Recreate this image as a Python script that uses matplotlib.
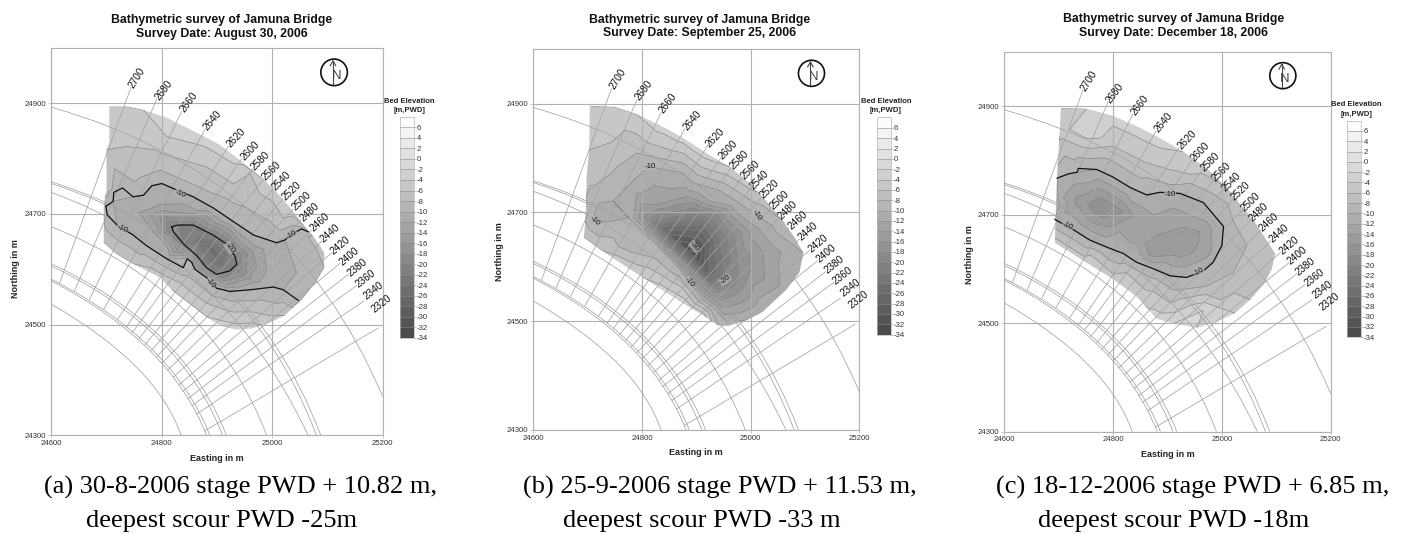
import matplotlib
matplotlib.use('Agg')
import matplotlib.pyplot as plt
from matplotlib.colors import LinearSegmentedColormap, BoundaryNorm
from matplotlib.patches import Circle, PathPatch, Polygon
from matplotlib.path import Path
from matplotlib.tri import Triangulation
import numpy as np

W, H = 1403, 534

# bed elevation classes
levels = list(range(-34, 9, 2))
legend_ticks = list(range(6, -35, -2))

# alignment chainages: label, outer end, inner end
chainage = [2700, 2680, 2660, 2640, 2620, 2600, 2580, 2560, 2540, 2520,
            2500, 2480, 2460, 2440, 2420, 2400, 2380, 2360, 2340, 2320]
outer_e = [24744, 24791, 24836, 24879, 24921, 24945, 24964, 24984, 25002, 25020,
           25038, 25053, 25071, 25090, 25108, 25123, 25138, 25153, 25165, 25192]
outer_n = [24928, 24908, 24885, 24854, 24823, 24800, 24782, 24763, 24746, 24728,
           24709, 24690, 24671, 24651, 24630, 24611, 24591, 24571, 24542, 24494]
inner_e = [24615, 24642, 24669, 24695, 24720, 24736, 24747, 24759, 24770, 24781,
           24791, 24800, 24811, 24821, 24831, 24838, 24847, 24855, 24863, 24878]
inner_n = [24575, 24561, 24546, 24528, 24509, 24496, 24486, 24475, 24464, 24453,
           24442, 24430, 24418, 24405, 24391, 24379, 24366, 24354, 24338, 24308]
label_e = [24744, 24791, 24836, 24879, 24921, 24945, 24964, 24984, 25002, 25020,
           25038, 25053, 25071, 25090, 25108, 25123, 25138, 25153, 25168, 25182]
label_n = [24928, 24908, 24885, 24854, 24823, 24800, 24782, 24763, 24746, 24728,
           24709, 24690, 24671, 24651, 24630, 24611, 24591, 24571, 24548, 24526]
label_rot = [58, 53, 53, 50, 46, 46, 45, 45, 45, 44,
             44, 43, 42, 41, 40, 40, 39, 38, 38, 38]

# guide bund / channel arcs: start, control, end
arc_start = [(24600, 24893), (24600, 24758), (24600, 24755), (24600, 24739), (24600, 24677),
             (24600, 24610), (24600, 24606), (24600, 24582), (24600, 24579), (24600, 24537)]
arc_ctrl = [(25030, 24772), (24955, 24648), (24950, 24644), (24910, 24628), (24891, 24561),
            (24841, 24497), (24836, 24493), (24820, 24471), (24816, 24467), (24790, 24429)]
arc_end = [(25200, 24370), (25088, 24300), (25080, 24300), (25065, 24300), (24990, 24300),
           (24917, 24300), (24910, 24300), (24887, 24300), (24881, 24300), (24835, 24300)]

# (a) 30 Aug 2006
a_outline_e = [24705, 24739, 24767, 24809, 24845, 24875, 24905, 24942, 24984, 25008, 25038, 25059, 25077,
               25094, 25094, 25080, 25053, 25023, 24999, 24963, 24936, 24908, 24881, 24845, 24818, 24797,
               24748, 24718, 24695, 24695, 24700, 24700, 24705]
a_outline_n = [24894, 24894, 24888, 24874, 24856, 24841, 24825, 24797, 24763, 24739, 24705, 24677, 24656,
               24630, 24603, 24579, 24545, 24517, 24505, 24493, 24491, 24497, 24514, 24542, 24563, 24585,
               24610, 24628, 24648, 24717, 24742, 24816, 24828]
a_outline_z = [-4, -4, -4, -4, -3, -3, -3, -3, -4, -5, -5, -6, -7,
               -8, -8, -8, -8, -6, -5, -3, -3, -3, -4, -4, -4, -5,
               -6, -6, -6, -9, -7, -6, -5]
a_m10_upper_e = [24699, 24712, 24713, 24729, 24748, 24767, 24782, 24800, 24821, 24857, 24893, 24930, 24966,
                 25008, 25023, 25038, 25053, 25065]
a_m10_upper_n = [24714, 24723, 24739, 24747, 24731, 24734, 24751, 24755, 24746, 24731, 24711, 24686, 24662,
                 24648, 24653, 24665, 24673, 24668]
a_m10_lower_e = [24699, 24701, 24719, 24748, 24772, 24809, 24839, 24846, 24854, 24860, 24881, 24899, 24923,
                 24960, 25002, 25020, 25047]
a_m10_lower_n = [24714, 24699, 24680, 24662, 24643, 24619, 24603, 24619, 24613, 24600, 24585, 24566, 24560,
                 24563, 24568, 24563, 24544]
a_m20_e = [24818, 24830, 24857, 24893, 24917, 24932, 24936, 24923, 24899, 24881, 24863, 24839, 24821, 24818]
a_m20_n = [24677, 24680, 24680, 24662, 24646, 24625, 24609, 24597, 24591, 24603, 24625, 24646, 24668, 24677]
a_depth_e = [24860, 24870, 24887, 24900, 24905, 24748, 24797, 24845, 24893, 24942, 24972, 24954, 24990, 25020,
             24966, 24917, 24893, 24797, 24809, 24779, 24809, 24851, 24748, 24797, 24869, 24930, 24990, 25038,
             25080, 25068, 24736, 24788, 24881, 24960, 24978, 25020, 24809, 24899, 24930, 24881, 24930, 24966,
             25002, 24833, 24767]
a_depth_n = [24670, 24650, 24640, 24625, 24610, 24704, 24717, 24705, 24686, 24656, 24631, 24613, 24600, 24594,
             24582, 24576, 24579, 24693, 24686, 24668, 24643, 24625, 24773, 24785, 24760, 24736, 24699, 24680,
             24637, 24594, 24822, 24816, 24785, 24773, 24736, 24693, 24840, 24810, 24791, 24539, 24533, 24533,
             24526, 24576, 24619]
a_depth_z = [-21, -23, -25, -25, -23, -11, -12, -13, -14, -13, -13, -16, -12, -11,
             -13, -15, -12, -16, -18, -11, -12, -14, -7, -7.5, -7, -7, -7.5, -8,
             -8, -9, -6, -6, -6, -6, -6, -6, -4, -4, -4, -6, -7, -7,
             -7, -6, -7]

# (b) 25 Sep 2006
b_outline_e = [24704, 24750, 24790, 24836, 24876, 24919, 24962, 24999, 25029, 25060, 25082, 25097, 25090,
               25066, 25023, 24993, 24959, 24940, 24913, 24882, 24845, 24802, 24753, 24726, 24693, 24697,
               24698, 24703]
b_outline_n = [24896, 24894, 24881, 24859, 24837, 24809, 24784, 24753, 24721, 24684, 24652, 24626, 24590,
               24558, 24518, 24502, 24491, 24492, 24511, 24530, 24552, 24580, 24612, 24630, 24654, 24699,
               24765, 24815]
b_outline_z = [-4, -4, -4, -3, -3, -3, -4, -5, -7, -8, -9, -10, -11,
               -11, -10, -10, -9, -8, -3, -3, -3, -4, -5, -6, -6, -9,
               -7, -6]
b_depth_e = [24810, 24827, 24851, 24876, 24897, 24913, 24925, 24937, 24775, 24802, 24833, 24864, 24888, 24913,
             24931, 24759, 24827, 24876, 24913, 24943, 24974, 24999, 24956, 25005, 25035, 25066, 24864, 24827,
             24790, 24882, 24925, 24968, 25011, 24815, 24876, 24943, 24747, 24713, 24790, 24790, 24851, 24913,
             24974, 24741, 24729, 24772]
b_depth_n = [24688, 24677, 24659, 24640, 24621, 24596, 24571, 24546, 24690, 24665, 24634, 24602, 24571, 24539,
             24521, 24665, 24590, 24552, 24677, 24652, 24621, 24590, 24577, 24665, 24627, 24590, 24702, 24715,
             24734, 24734, 24721, 24715, 24695, 24784, 24772, 24740, 24721, 24684, 24765, 24809, 24815, 24790,
             24759, 24797, 24702, 24640]
b_depth_z = [-17, -22, -28, -31, -33, -28, -22, -17, -10, -10, -10, -10, -10, -10,
             -9, -9, -6, -5, -24, -22, -18, -16, -20, -13, -13, -11, -18, -14,
             -12, -13, -12, -11, -10, -10, -10, -10, -10, -10, -10, -8, -6, -5,
             -6, -7, -11, -9]

# (c) 18 Dec 2006
c_outline_e = [24704, 24751, 24800, 24849, 24886, 24929, 24972, 25009, 25033, 25064, 25098, 25092, 25079,
               25052, 25024, 24990, 24954, 24911, 24880, 24843, 24800, 24745, 24693, 24695, 24697, 24702]
c_outline_n = [24896, 24895, 24882, 24860, 24841, 24816, 24785, 24750, 24719, 24681, 24628, 24600, 24574,
               24543, 24518, 24502, 24491, 24499, 24508, 24549, 24581, 24615, 24648, 24719, 24769, 24857]
c_outline_z = [-4, -4, -3, -3, -3, -4, -5, -6, -7, -7, -8, -8, -7,
               -6, -4, -3, -2, -2, -3, -5, -5, -5, -5, -9, -9, -5]
c_m10_e = [24697, 24718, 24734, 24736, 24770, 24800, 24831, 24862, 24886, 24923, 24966, 25003, 25000,
           24984, 24966, 24935, 24905, 24874, 24843, 24819, 24788, 24757, 24727, 24693]
c_m10_n = [24767, 24775, 24778, 24785, 24783, 24769, 24750, 24736, 24741, 24739, 24722, 24678, 24643,
           24612, 24596, 24584, 24587, 24600, 24612, 24628, 24640, 24653, 24672, 24691]
c_depth_e = [24779, 24813, 24837, 24739, 24708, 24880, 24911, 24941, 24874, 24923, 24960, 24972, 24849, 24911,
             24972, 24757, 24739, 24757, 24800, 24849, 24911, 24972, 25021, 25046, 25064, 25021, 24972, 24911,
             24874, 24825, 24757, 24966]
c_depth_n = [24713, 24706, 24697, 24725, 24731, 24681, 24662, 24659, 24631, 24631, 24668, 24631, 24656, 24712,
             24687, 24813, 24826, 24857, 24826, 24782, 24763, 24744, 24687, 24643, 24606, 24593, 24568, 24549,
             24574, 24593, 24618, 24523]
c_depth_z = [-18, -16.5, -14, -15, -12, -13, -14.5, -15, -15.5, -15, -14, -13, -13, -12,
             -12, -7, -6, -2, -6, -7, -7, -8, -8, -8, -8, -8, -8, -7,
             -7, -6, -5, -2]

titles = ['Survey Date: August 30, 2006', 'Survey Date: September 25, 2006', 'Survey Date: December 18, 2006']
captions = [('(a) 30-8-2006 stage PWD + 10.82 m,', 'deepest scour PWD -25m'),
            ('(b) 25-9-2006 stage PWD + 11.53 m,', 'deepest scour PWD -33 m'),
            ('(c) 18-12-2006 stage PWD + 6.85 m,', 'deepest scour PWD -18m')]
a_labels = [(24833, 24736, '-10', -25), (25035, 24663, '-10', 30), (24728, 24673, '-10', -25),
            (24923, 24639, '-20', -55), (24888, 24574, '-10', -50)]
b_labels = [(24815, 24784, '-10', 0), (24713, 24684, '-10', -45), (25011, 24695, '-10', -60),
            (24897, 24637, '-30', -50), (24888, 24571, '-10', -50), (24953, 24576, '-20', 35)]
c_labels = [(24905, 24737, '-10', 0), (24716, 24678, '-10', -25), (24957, 24595, '-10', 30)]

plt.rcParams['font.family'] = ['Liberation Sans', 'DejaVu Sans']

GRID = '#b0b0b0'
WIRE = '#a3a3a3'
cmap = LinearSegmentedColormap.from_list('bed', ['#4b4b4b', '#fcfcfc'], N=len(levels) - 1)
norm = BoundaryNorm(levels, cmap.N)

fig = plt.figure(figsize=(W / 100, H / 100), dpi=100, facecolor='white')


def px_axes(left, right, top, bottom):
    return fig.add_axes([left / W, 1 - bottom / H, (right - left) / W, (bottom - top) / H])


def fig_text(x, y, s, **kw):
    fig.text(x / W, 1 - y / H, s, ha=kw.pop('ha', 'center'), va='center', **kw)


def draw_panel(box, outline, depth, thick, notes):
    ax = px_axes(*box)
    ax.set_xlim(24600, 25200)
    ax.set_ylim(24300, 25000)

    # survey field, cut to the surveyed area
    e = list(outline[0]) + list(depth[0]) + [p for line in thick for p in line[0]]
    n = list(outline[1]) + list(depth[1]) + [p for line in thick for p in line[1]]
    z = list(outline[2]) + list(depth[2]) + [line[2] for line in thick for _ in line[0]]
    tri = Triangulation(np.array(e, dtype=float), np.array(n, dtype=float))
    area = Polygon(np.column_stack(outline[:2]), closed=True, transform=ax.transData, fc='none', ec='none')
    ax.add_patch(area)
    cf = ax.tricontourf(tri, z, levels=levels, cmap=cmap, norm=norm, zorder=1)
    cl = ax.tricontour(tri, z, levels=levels, colors='#7d7d7d', linewidths=0.45,
                       linestyles='solid', zorder=2)
    cf.set_clip_path(area)
    cl.set_clip_path(area)

    for s, c, t in zip(arc_start, arc_ctrl, arc_end):
        arc = Path([s, c, t], [Path.MOVETO, Path.CURVE3, Path.CURVE3])
        ax.add_patch(PathPatch(arc, fc='none', ec=WIRE, lw=0.55, zorder=3))
    for i in range(len(chainage)):
        ax.plot([inner_e[i], outer_e[i]], [inner_n[i], outer_n[i]], color=WIRE, lw=0.55, zorder=3)
        ax.text(label_e[i], label_n[i], str(chainage[i]), fontsize=7.2, color='#111111',
                rotation=label_rot[i], rotation_mode='anchor', ha='left', va='center', zorder=6)

    for line in thick:
        ax.plot(line[0], line[1], color='#111111', lw=0.9, zorder=4)
    for x, y, s, r in notes:
        ax.text(x, y, s, fontsize=5.6, color='#111111', rotation=r, ha='center', va='center', zorder=5,
                bbox=dict(fc='#b4b4b4', ec='none', pad=0.2, alpha=0.75))

    # north sign
    ax.add_patch(Circle((25112, 24956), 24, fc='white', ec='#111111', lw=1.2, zorder=5))
    ax.text(25116, 24949, 'N', fontsize=9.5, color='#444444', ha='center', va='center', zorder=6)
    ax.plot([25110, 25110], [24935, 24977], color='#444444', lw=0.8, zorder=6)
    ax.plot([25105, 25110, 25115], [24968, 24977, 24968], color='#444444', lw=0.8, zorder=6)

    ax.set_xticks([24600, 24800, 25000, 25200])
    ax.set_yticks([24300, 24500, 24700, 24900])
    ax.tick_params(labelsize=5.6, length=2, width=0.5, color=GRID, labelcolor='#333333', pad=1.5)
    ax.grid(True, color=GRID, lw=0.8, zorder=3)
    ax.set_axisbelow(False)
    for sp in ax.spines.values():
        sp.set_color(GRID)
        sp.set_linewidth(0.8)
    return ax


def draw_legend(left, right, top, bottom):
    cax = px_axes(left, right, top, bottom)
    cax.pcolormesh([0, 1], levels, np.array(levels[:-1], dtype=float).reshape(-1, 1) + 1, cmap=cmap, norm=norm)
    cax.hlines(levels[1:-1], 0, 1, color='#8a8a8a', lw=0.4)
    cax.set_ylim(-34, 8)
    cax.set_xticks([])
    cax.yaxis.tick_right()
    cax.set_yticks(legend_ticks)
    cax.set_yticklabels([str(v) for v in legend_ticks])
    cax.tick_params(labelsize=5.6, length=1.5, width=0.4, color='#888888', labelcolor='#333333', pad=0.8)
    for sp in cax.spines.values():
        sp.set_color('#b5b5b5')
        sp.set_linewidth(0.5)


boxes = [(51.3, 382.7, 48.0, 435.3), (533.3, 859.3, 49.4, 429.8), (1004.3, 1330.7, 51.8, 431.5)]
outlines = [(a_outline_e, a_outline_n, a_outline_z), (b_outline_e, b_outline_n, b_outline_z),
            (c_outline_e, c_outline_n, c_outline_z)]
depths = [(a_depth_e, a_depth_n, a_depth_z), (b_depth_e, b_depth_n, b_depth_z), (c_depth_e, c_depth_n, c_depth_z)]
thick_lines = [[(a_m10_upper_e, a_m10_upper_n, -10), (a_m10_lower_e, a_m10_lower_n, -10), (a_m20_e, a_m20_n, -20)],
               [],
               [(c_m10_e, c_m10_n, -10)]]
notes = [a_labels, b_labels, c_labels]
legend_boxes = [(399.7, 413.7, 116.8, 338.0), (876.7, 890.7, 117.5, 334.5), (1347.3, 1360.7, 120.6, 337.2)]
title_x = [221.7, 700, 1173.3]
title_y = [(19.8, 33.7), (19.8, 33.4), (19.4, 33.0)]
east_pos = [(216.7, 458.8), (696, 452.3), (1167.7, 454.7)]
north_pos = [(16, 269), (499, 252), (970, 254.8)]
legend_title = [(409.5, 101.2, 110.4), (886, 101.5, 110.7), (1356.7, 104.9, 114)]
caption_pos = [(240.5, 222), (720, 701.7), (1193, 1174)]

for i in range(3):
    draw_panel(boxes[i], outlines[i], depths[i], thick_lines[i], notes[i])
    draw_legend(*legend_boxes[i])
    fig_text(title_x[i], title_y[i][0], 'Bathymetric survey of Jamuna Bridge', fontsize=8.8, fontweight='bold', color='#111111')
    fig_text(title_x[i], title_y[i][1], titles[i], fontsize=8.8, fontweight='bold', color='#111111')
    fig_text(east_pos[i][0], east_pos[i][1], 'Easting in m', fontsize=6.5, fontweight='bold', color='#222222')
    fig_text(north_pos[i][0], north_pos[i][1], 'Northing in m', fontsize=6.5, fontweight='bold', color='#222222', rotation=90)
    fig_text(legend_title[i][0], legend_title[i][1], 'Bed Elevation', fontsize=5.5, fontweight='bold', color='#222222')
    fig_text(legend_title[i][0], legend_title[i][2], '[m,PWD]', fontsize=5.5, fontweight='bold', color='#222222')
    fig_text(caption_pos[i][0], 487, captions[i][0], fontsize=19, family=['Liberation Serif'], color='black')
    fig_text(caption_pos[i][1], 520.5, captions[i][1], fontsize=19, family=['Liberation Serif'], color='black')

fig.savefig('out.png', dpi=100)
